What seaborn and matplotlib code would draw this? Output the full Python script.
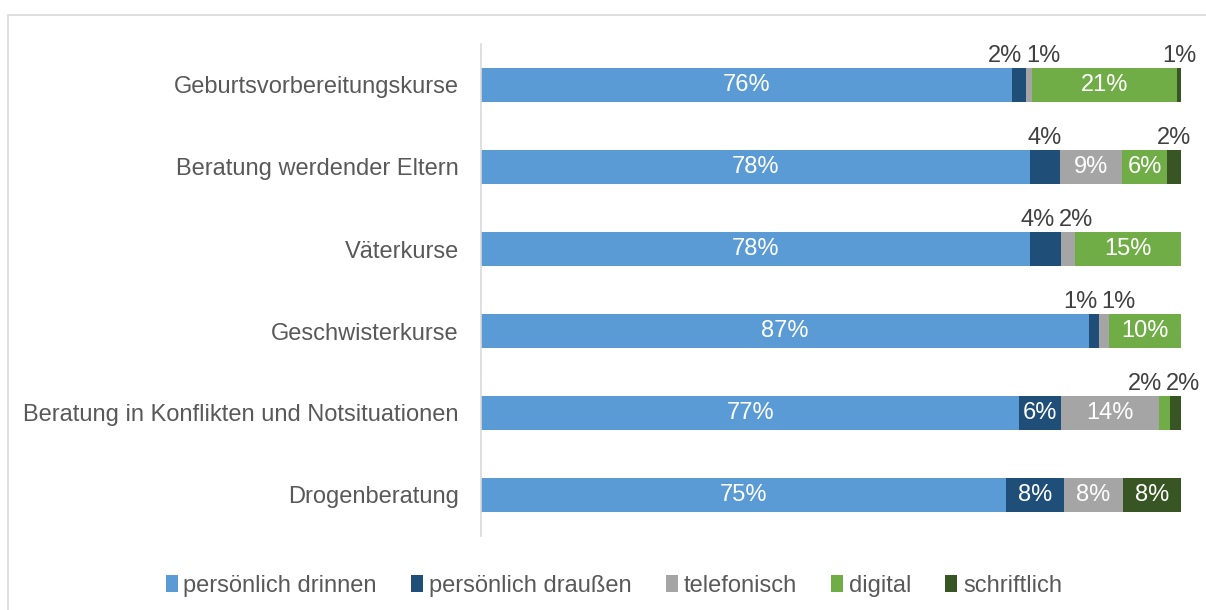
import matplotlib
matplotlib.use("Agg")
import matplotlib.pyplot as plt
import matplotlib.patches as mpatches
import seaborn as sns
import pandas as pd
import numpy as np

categories = [
    "Geburtsvorbereitungskurse",
    "Beratung werdender Eltern",
    "Väterkurse",
    "Geschwisterkurse",
    "Beratung in Konflikten und Notsituationen",
    "Drogenberatung",
]
series_names = ["persönlich drinnen", "persönlich draußen", "telefonisch", "digital", "schriftlich"]
drinnen = [75.9, 78.4, 78.4, 86.9, 76.9, 75.0]
draussen = [2.0, 4.3, 4.4, 1.4, 6.0, 8.3]
telefonisch = [0.8, 8.9, 2.1, 1.4, 13.9, 8.4]
digital = [20.7, 6.4, 15.1, 10.3, 1.6, 0.0]
schriftlich = [0.6, 2.0, 0.0, 0.0, 1.6, 8.3]

colors = ["#5B9BD5", "#1F4E79", "#A5A5A5", "#70AD47", "#375623"]

sns.set_theme(style="white")
plt.rcParams["font.family"] = ["Liberation Sans", "DejaVu Sans"]

FS = 17
fig = plt.figure(figsize=(12.06, 6.10), dpi=100)
ax = fig.add_axes([481 / 1206, 74 / 610, 700 / 1206, 492 / 610])

series = [drinnen, draussen, telefonisch, digital, schriftlich]
vals = np.array(series)  # shape (5, 6)
cum = np.cumsum(vals, axis=0)

# draw cumulative layers from the outermost to innermost so they stack
for k in range(len(series) - 1, -1, -1):
    df = pd.DataFrame({"cat": categories, "value": cum[k]})
    sns.barplot(data=df, x="value", y="cat", orient="h", color=colors[k],
                saturation=1, width=0.41, linewidth=0, ax=ax, errorbar=None)

ax.set_xlim(0, 100)
ax.set_ylim(5.5, -0.5)
ax.set_xlabel("")
ax.set_ylabel("")
ax.set_xticks([])
ax.tick_params(axis="y", length=0, pad=16, labelsize=FS, labelcolor="#595959")
for s in ["top", "right", "bottom"]:
    ax.spines[s].set_visible(False)
ax.spines["left"].set_color("#D9D9D9")
ax.spines["left"].set_linewidth(1.2)

# data labels
px = 7.0  # pixels per data unit (700 px for 100%)
gap = 2.0 / px
bar_half = 0.205
for i in range(len(categories)):
    starts = cum[:, i] - vals[:, i]
    outside = []
    for k in range(len(series)):
        v = vals[k, i]
        if v <= 0:
            continue
        center = starts[k] + v / 2
        label = f"{v:.0f}%"
        if v >= 5:
            ax.text(center, i, label, ha="center", va="center", color="white",
                    fontsize=FS)
        else:
            outside.append([center, label, k])
    # place outside labels above bar; spread adjacent pairs
    j = 0
    ytxt = i - bar_half - 0.02
    while j < len(outside):
        if j + 1 < len(outside) and outside[j + 1][2] == outside[j][2] + 1:
            mid = (outside[j][0] + outside[j + 1][0]) / 2
            mid = min(mid, 97.6)
            ax.text(mid - gap, ytxt, outside[j][1], ha="right", va="bottom",
                    color="#404040", fontsize=FS)
            ax.text(mid + gap, ytxt, outside[j + 1][1], ha="left", va="bottom",
                    color="#404040", fontsize=FS)
            j += 2
        else:
            ax.text(outside[j][0], ytxt, outside[j][1], ha="center", va="bottom",
                    color="#404040", fontsize=FS)
            j += 1

# legend
handles = [mpatches.Patch(facecolor=c, edgecolor="none", label=n)
           for c, n in zip(colors, series_names)]
fig.legend(handles=handles, loc="center", bbox_to_anchor=(0.509, 1 - 586 / 610),
           ncol=5, frameon=False, fontsize=FS, labelcolor="#595959",
           handlelength=0.5, handleheight=0.7, handletextpad=0.25,
           columnspacing=1.45, borderaxespad=0)

# outer chart border
border = mpatches.Rectangle((8 / 1206, -0.05), 1.2, 1 - 15 / 610 + 0.05,
                            transform=fig.transFigure, fill=False,
                            edgecolor="#D9D9D9", linewidth=1.2, clip_on=False)
fig.patches.append(border)

fig.savefig("out.png", dpi=100)
